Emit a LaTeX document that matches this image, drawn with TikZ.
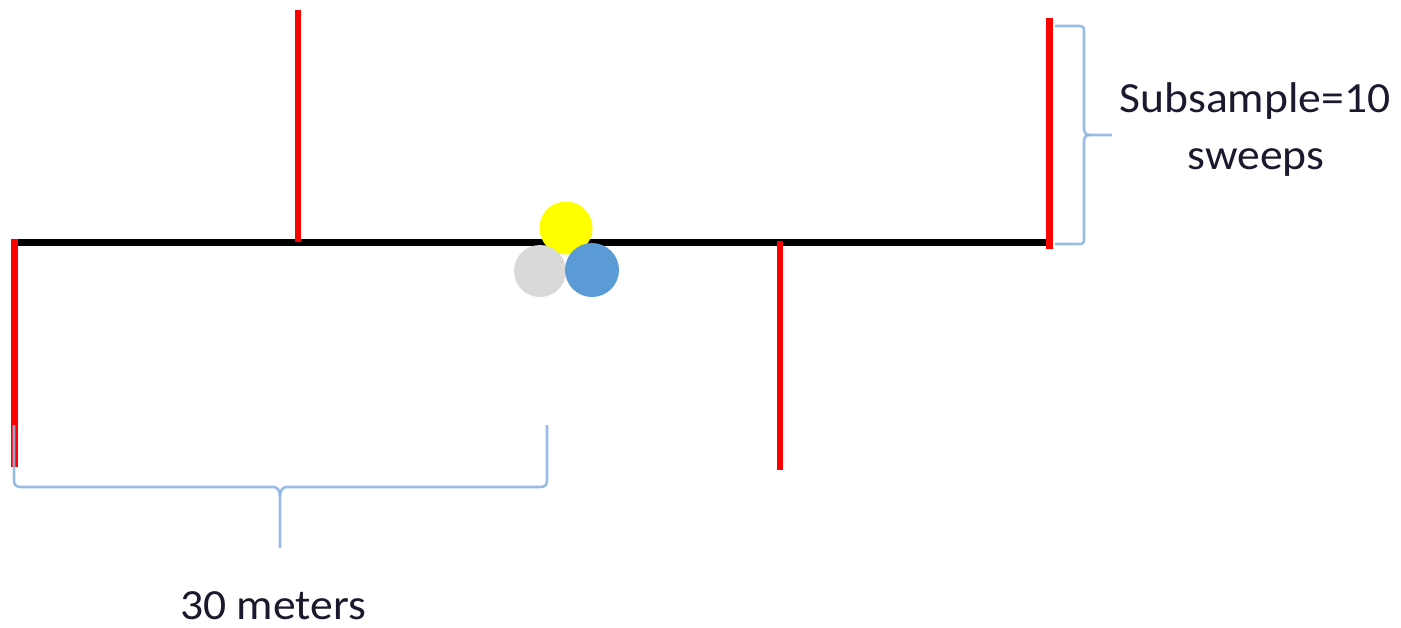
\documentclass[tikz,border=0pt]{standalone}
\usepackage{fontspec}
\setmainfont{Carlito}
\newfontfamily\lblfont[FakeStretch=1.06]{Carlito}
\definecolor{redline}{HTML}{FF0000}
\definecolor{bracecol}{HTML}{8DB5E2}
\definecolor{dotyellow}{HTML}{FFFF00}
\definecolor{dotgray}{HTML}{D9D9D9}
\definecolor{dotblue}{HTML}{5B9BD5}
\definecolor{txt}{HTML}{1A1A2E}
\begin{document}
\begin{tikzpicture}[x=1pt,y=-1pt,
  axisline/.style={line width=7pt,black},
  redmark/.style={line width=6.5pt,redline},
  bracepath/.style={line width=2.6pt,bracecol,opacity=0.9,line join=round},
  lbl/.style={font=\lblfont\fontsize{43}{50}\selectfont,text=txt,inner sep=0pt,anchor=base}]
\useasboundingbox (0,0) rectangle (1401,627);
% main line
\coordinate (L) at (18,242.5);
\coordinate (R) at (1046,242.5);
\draw[axisline] (L) -- (R);
% red markers
\coordinate (r1a) at (14.5,239); \coordinate (r1b) at (14.5,467);
\coordinate (r2a) at (298,10);   \coordinate (r2b) at (298,242);
\coordinate (r3a) at (780,241);  \coordinate (r3b) at (780,470);
\coordinate (r4a) at (1049.5,18);\coordinate (r4b) at (1049.5,249);
\draw[redmark] (r1a) -- (r1b);
\draw[redmark] (r2a) -- (r2b);
\draw[redmark] (r3a) -- (r3b);
\draw[redmark] (r4a) -- (r4b);
% dots
\fill[dotyellow] (566,228) circle[radius=26.5];
\fill[dotgray] (540,271) circle[radius=26];
\fill[dotblue] (592,270) circle[radius=27];
% right brace
\draw[bracepath] (1055,26) -- (1079,26) .. controls (1083,26) and (1084,27) .. (1084,31)
  -- (1084,130) .. controls (1084,133) and (1086,135) .. (1090,135) -- (1112,135);
\draw[bracepath] (1090,135) .. controls (1086,135) and (1084,137) .. (1084,140)
  -- (1084,239) .. controls (1084,243) and (1083,244) .. (1079,244) -- (1055,244);
% bottom brace
\draw[bracepath] (14,425) -- (14,480) .. controls (14,485) and (16,487) .. (21,487)
  -- (273,487) .. controls (277,487) and (280,490) .. (280,496) -- (280,548);
\draw[bracepath] (280,496) .. controls (280,490) and (283,487) .. (287,487)
  -- (540,487) .. controls (545,487) and (547,485) .. (547,480) -- (547,425);
% labels
\node[lbl] (t1) at (1255,112) {Subsample=10};
\node[lbl] (t2) at (1256,169) {sweeps};
\node[lbl] (t3) at (273,619) {30 meters};
\end{tikzpicture}
\end{document}
